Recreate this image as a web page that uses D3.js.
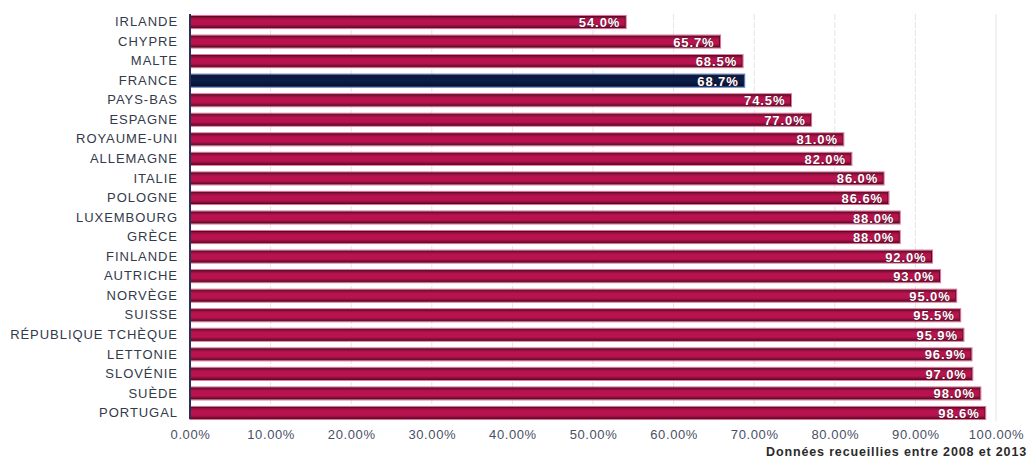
<!DOCTYPE html>
<html>
<head>
<meta charset="utf-8">
<script src="https://cdn.jsdelivr.net/npm/d3@7"></script>
<style>
  body { margin: 0; background: #fff; }
  svg { font-family: "Liberation Sans", Arial, sans-serif; }
</style>
</head>
<body>
<svg id="chart" width="1028" height="458"></svg>
<script>
const countries = ["IRLANDE", "CHYPRE", "MALTE", "FRANCE", "PAYS-BAS", "ESPAGNE", "ROYAUME-UNI",
    "ALLEMAGNE", "ITALIE", "POLOGNE", "LUXEMBOURG", "GRÈCE", "FINLANDE", "AUTRICHE", "NORVÈGE",
    "SUISSE", "RÉPUBLIQUE TCHÈQUE", "LETTONIE", "SLOVÉNIE", "SUÈDE", "PORTUGAL"];
const values = [54.0, 65.7, 68.5, 68.7, 74.5, 77.0, 81.0, 82.0, 86.0, 86.6, 88.0, 88.0,
    92.0, 93.0, 95.0, 95.5, 95.9, 96.9, 97.0, 98.0, 98.6];
const xTicks = [0, 10, 20, 30, 40, 50, 60, 70, 80, 90, 100];
const highlight = "FRANCE";
const note = "Données recueillies entre 2008 et 2013";

const data = countries.map((c, i) => ({ country: c, value: values[i] }));

const margin = { top: 14, right: 32, bottom: 35, left: 190 };
const width = 1028 - margin.left - margin.right;
const height = 458 - margin.top - margin.bottom;

const svg = d3.select("#chart");

// gradients for the bars
const defs = svg.append("defs");
const red = defs.append("linearGradient").attr("id", "grad-red")
    .attr("x1", 0).attr("y1", 0).attr("x2", 0).attr("y2", 1);
red.append("stop").attr("offset", "0%").attr("stop-color", "#7a0c33");
red.append("stop").attr("offset", "30%").attr("stop-color", "#b8134f");
red.append("stop").attr("offset", "70%").attr("stop-color", "#b8134f");
red.append("stop").attr("offset", "100%").attr("stop-color", "#6a0a2c");
const blue = defs.append("linearGradient").attr("id", "grad-blue")
    .attr("x1", 0).attr("y1", 0).attr("x2", 0).attr("y2", 1);
blue.append("stop").attr("offset", "0%").attr("stop-color", "#0a1638");
blue.append("stop").attr("offset", "50%").attr("stop-color", "#0b1f4a");
blue.append("stop").attr("offset", "100%").attr("stop-color", "#06112e");

const g = svg.append("g")
    .attr("transform", `translate(${margin.left},${margin.top})`);

const x = d3.scaleLinear().domain([0, 100]).range([0, 806]);

const y = d3.scaleBand()
    .domain(countries)
    .range([0, height - 2])
    .paddingInner(0.38)
    .paddingOuter(0.1);

// grid
g.append("g")
    .selectAll("line")
    .data(xTicks.filter(d => d > 0))
    .join("line")
    .attr("x1", d => x(d)).attr("x2", d => x(d))
    .attr("y1", 0).attr("y2", height - 2)
    .attr("stroke", "#e4e4e8")
    .attr("stroke-width", 1)
    .attr("stroke-dasharray", d => d === 100 ? null : "6,2");

// x axis
const xAxis = g.append("g")
    .attr("transform", `translate(0,${height - 3})`)
    .call(d3.axisBottom(x).tickValues(xTicks).tickSize(0).tickPadding(10)
        .tickFormat(d => d.toFixed(2) + "%"));
xAxis.select(".domain").remove();
xAxis.selectAll("text")
    .style("font-size", "13px")
    .style("letter-spacing", "0.6px")
    .attr("fill", "#4a4f66");

// y axis
const yAxis = g.append("g")
    .call(d3.axisLeft(y).tickSize(0).tickPadding(12));
yAxis.select(".domain").remove();
yAxis.selectAll("text")
    .style("font-size", "13px")
    .style("letter-spacing", "0.95px")
    .attr("fill", "#333a4a");

// bars
const bars = g.selectAll(".bar")
    .data(data)
    .join("g")
    .attr("class", "bar")
    .attr("transform", d => `translate(0,${y(d.country)})`);

bars.append("rect")
    .attr("x", 0)
    .attr("y", -0.5)
    .attr("width", d => x(d.value) + 1)
    .attr("height", y.bandwidth() + 1)
    .attr("fill", "none")
    .attr("stroke", d => d.country === highlight ? "#4a78d8" : "#e8709a")
    .attr("stroke-width", 1);

bars.append("rect")
    .attr("x", 0)
    .attr("y", 0.5)
    .attr("width", d => x(d.value))
    .attr("height", y.bandwidth() - 1)
    .attr("fill", d => d.country === highlight ? "url(#grad-blue)" : "url(#grad-red)")
    .attr("stroke", d => d.country === highlight ? "#081230" : "#5a0822")
    .attr("stroke-width", 1);

bars.append("text")
    .attr("x", d => x(d.value) - 5)
    .attr("y", y.bandwidth() / 2 + 5)
    .attr("text-anchor", "end")
    .style("font-size", "13px")
    .style("font-weight", "bold")
    .style("letter-spacing", "0.9px")
    .attr("fill", "#fff")
    .attr("stroke", "#3a0818")
    .attr("stroke-width", 0.6)
    .attr("paint-order", "stroke")
    .text(d => d.value.toFixed(1) + "%");

// left axis line
g.append("line")
    .attr("x1", 0).attr("x2", 0)
    .attr("y1", 0).attr("y2", height - 4)
    .attr("stroke", "#2a2f55")
    .attr("stroke-width", 2);

// note
svg.append("text")
    .attr("x", 1027)
    .attr("y", 456)
    .attr("text-anchor", "end")
    .style("font-size", "12.5px")
    .style("font-weight", "bold")
    .style("letter-spacing", "0.85px")
    .attr("fill", "#2a2a2a")
    .text(note);
</script>
</body>
</html>
